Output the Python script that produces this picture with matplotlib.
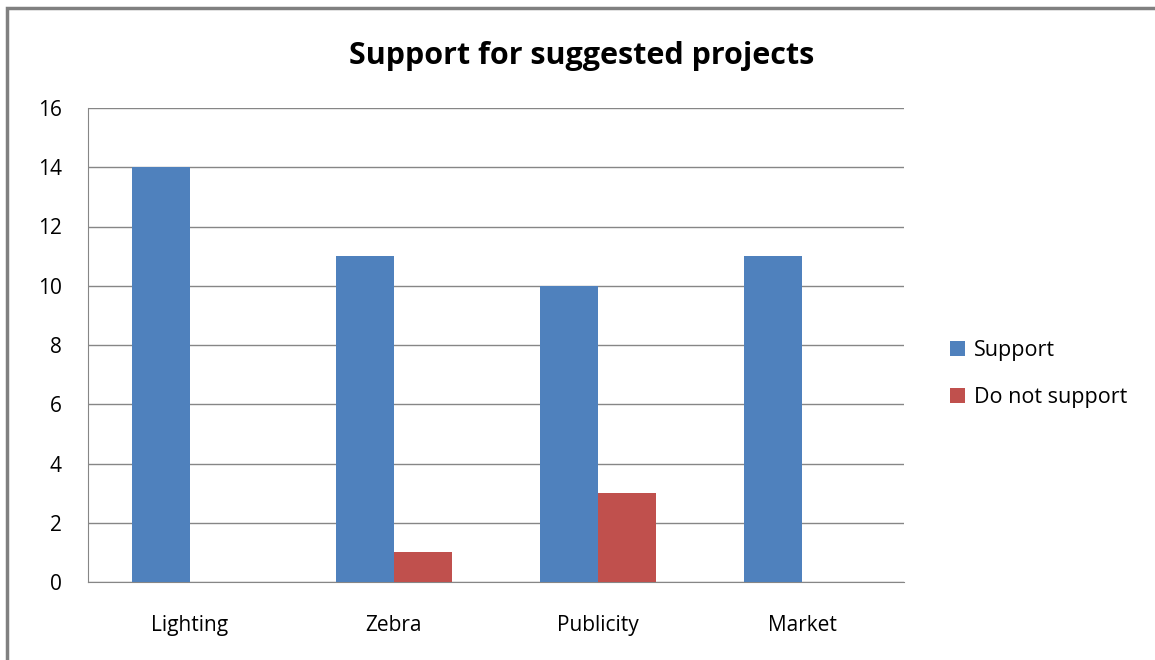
import matplotlib.pyplot as plt
import numpy as np
from matplotlib.patches import Rectangle

# 数据
categories = ['Lighting', 'Zebra', 'Publicity', 'Market']
support = [14, 11, 10, 11]
not_support = [0, 1, 3, 0]
y_ticks = [0, 2, 4, 6, 8, 10, 12, 14, 16]

plt.rcParams['font.family'] = ['Open Sans', 'DejaVu Sans']

fig = plt.figure(figsize=(11.55, 6.6), dpi=100)
ax = fig.add_axes([88 / 1155, 78 / 660, 816 / 1155, 474 / 660])

x = np.arange(len(categories))
w = 1 / 3.5
ax.bar(x - w / 2, support, w, color='#4F81BD', label='Support', zorder=3)
ax.bar(x + w / 2, not_support, w, color='#C0504D', label='Do not support', zorder=3)

ax.set_xlim(-0.5, len(categories) - 0.5)
ax.set_ylim(0, 16)
ax.set_yticks(y_ticks)
ax.set_xticks(x)
ax.set_xticklabels(categories, fontsize=15)
ax.tick_params(axis='both', length=0, labelsize=15)
ax.tick_params(axis='x', pad=24)
ax.tick_params(axis='y', pad=19)
ax.grid(axis='y', color='#868686', lw=1, zorder=0)
for s in ['top', 'right']:
    ax.spines[s].set_visible(False)
ax.spines['left'].set_color('#868686')
ax.spines['bottom'].set_color('#868686')

fig.text(582 / 1155, 1 - 56 / 660, 'Support for suggested projects',
         ha='center', va='center', fontsize=22, fontweight='bold')

ax.legend(loc='center left', bbox_to_anchor=(931 / 1155, 1 - 374 / 660),
          bbox_transform=fig.transFigure, frameon=False, fontsize=15.5,
          handlelength=0.7, handleheight=0.7, handletextpad=0.4, labelspacing=1.2)

# 外框
fig.patches.append(Rectangle((7 / 1155, -0.1), 1.2, 1 - 8 / 660 + 0.1,
                             transform=fig.transFigure, fill=False,
                             edgecolor='#808080', lw=2.5))

plt.savefig('out.png')
plt.close()
